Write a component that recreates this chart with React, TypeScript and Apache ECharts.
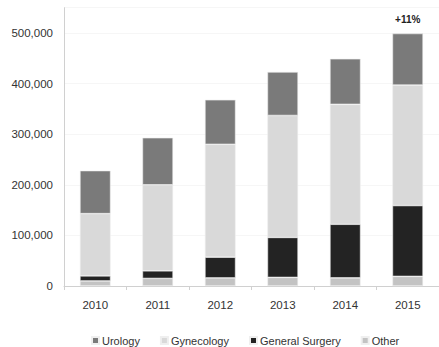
import React, { useEffect, useRef } from "react";
import * as echarts from "echarts";

const years = ["2010", "2011", "2012", "2013", "2014", "2015"];
const other = [10000, 15000, 16000, 17000, 16000, 19000];
const generalSurgery = [10000, 15000, 41000, 79000, 106000, 140000];
const gynecology = [123000, 170000, 223000, 241000, 237000, 238000];
const urology = [85000, 93000, 88000, 86000, 90000, 102000];
const growthLabel = "+11%";
const legendNames = ["Urology", "Gynecology", "General Surgery", "Other"];

const FONT = "'Liberation Sans Narrow', 'Arial Narrow', 'Liberation Sans', sans-serif";

export default function App() {
  const ref = useRef<HTMLDivElement>(null);
  useEffect(() => {
    if (!ref.current) return;
    const chart = echarts.init(ref.current, null, { renderer: "svg" });
    const barBase = {
      type: "bar" as const,
      stack: "total",
      barWidth: "49%",
      itemStyle: { borderColor: "#efefef", borderWidth: 0.6 },
    };
    chart.setOption({
      animation: false,
      backgroundColor: "#ffffff",
      textStyle: { fontFamily: FONT },
      grid: { left: 64, top: 7.7, width: 380, bottom: 61, containLabel: false },
      legend: {
        data: legendNames,
        left: 91,
        top: 335,
        padding: 0,
        icon: "rect",
        itemWidth: 7,
        itemHeight: 7,
        itemGap: 20,
        textStyle: { fontFamily: FONT, fontSize: 11, color: "#333333", padding: [0, 0, 0, -2] },
      },
      xAxis: {
        type: "category",
        data: years,
        axisLine: { lineStyle: { color: "#d0d0d0", width: 1 } },
        axisTick: { show: true, length: 4, lineStyle: { color: "#d0d0d0" } },
        axisLabel: { fontFamily: FONT, fontSize: 11.5, color: "#333333", margin: 13 },
      },
      yAxis: {
        type: "value",
        min: 0,
        max: 550000,
        interval: 100000,
        axisLine: { show: true, lineStyle: { color: "#d0d0d0", width: 1 } },
        axisTick: { show: false },
        splitLine: { show: true, lineStyle: { color: "#f6f6f6" } },
        axisLabel: {
          fontFamily: FONT,
          fontSize: 11.5,
          color: "#333333",
          margin: 11,
          showMaxLabel: false,
          formatter: (v: number) => (v > 500000 ? "" : v.toLocaleString("en-US")),
        },
      },
      series: [
        { ...barBase, name: "Other", data: other, itemStyle: { ...barBase.itemStyle, color: "#c3c3c3" } },
        { ...barBase, name: "General Surgery", data: generalSurgery, itemStyle: { ...barBase.itemStyle, color: "#232323" } },
        { ...barBase, name: "Gynecology", data: gynecology, itemStyle: { ...barBase.itemStyle, color: "#d9d9d9" } },
        {
          ...barBase,
          name: "Urology",
          itemStyle: { ...barBase.itemStyle, color: "#7a7a7a" },
          data: urology.map((v, i) =>
            i === urology.length - 1
              ? {
                  value: v,
                  label: {
                    show: true,
                    position: "top",
                    distance: 9,
                    formatter: growthLabel,
                    fontFamily: FONT,
                    fontSize: 10,
                    fontWeight: "bold",
                    color: "#222222",
                  },
                }
              : v
          ),
        },
      ],
    });
    return () => chart.dispose();
  }, []);
  return (
    <div
      ref={ref}
      style={{ position: "fixed", left: 0, top: 0, width: 439, height: 347, background: "#fff" }}
    />
  );
}
